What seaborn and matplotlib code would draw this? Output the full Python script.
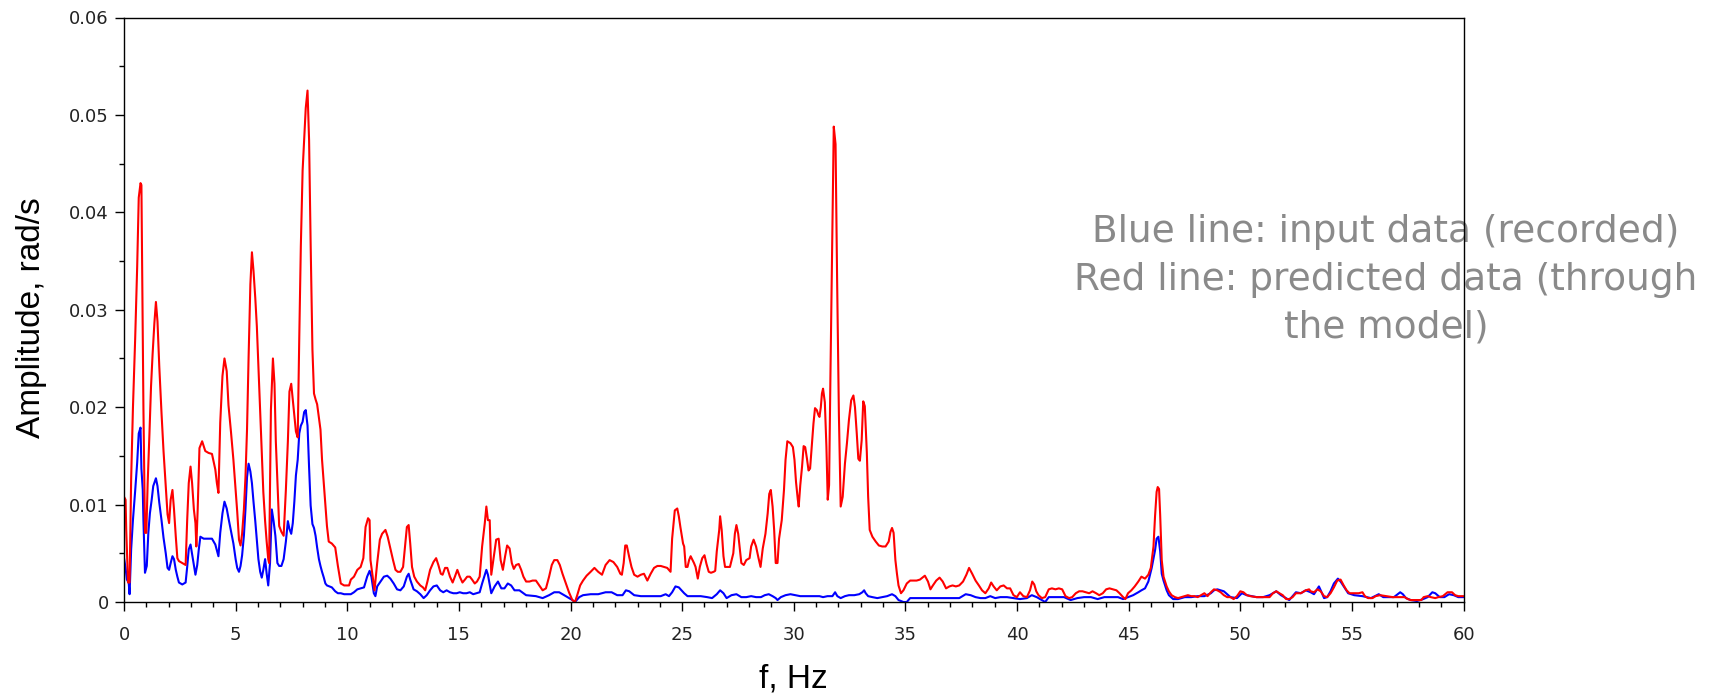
import matplotlib
matplotlib.use("Agg")
import matplotlib.pyplot as plt
import pandas as pd
import seaborn as sns
from matplotlib.ticker import MultipleLocator

# Spectrum of the predicted signal (red), frequency in Hz and amplitude in rad/s
red_f = [0.00, 0.07, 0.10, 0.18, 0.25, 0.32, 0.40, 0.50, 0.59, 0.66, 0.74, 0.78, 0.82, 0.87, 0.94,
         1.00, 1.06, 1.14, 1.21, 1.28, 1.36, 1.43, 1.50, 1.58, 1.68, 1.77, 1.87, 1.95, 2.02, 2.09,
         2.17, 2.24, 2.32, 2.39, 2.46, 2.61, 2.76, 2.83, 2.90, 2.98, 3.05, 3.13, 3.20, 3.24, 3.30,
         3.38, 3.50, 3.64, 3.79, 3.94, 4.09, 4.16, 4.23, 4.31, 4.41, 4.50, 4.60, 4.68, 4.79, 4.90,
         5.00, 5.07, 5.15, 5.22, 5.29, 5.37, 5.44, 5.51, 5.58, 5.66, 5.73, 5.80, 5.88, 5.95, 6.02,
         6.10, 6.17, 6.24, 6.32, 6.39, 6.46, 6.50, 6.58, 6.67, 6.74, 6.80, 6.87, 6.95, 7.05, 7.15,
         7.25, 7.34, 7.41, 7.49, 7.56, 7.63, 7.70, 7.78, 7.85, 7.92, 8.00, 8.07, 8.14, 8.22, 8.29,
         8.36, 8.44, 8.51, 8.58, 8.65, 8.80, 8.87, 8.95, 9.02, 9.09, 9.17, 9.31, 9.46, 9.58, 9.71,
         9.86, 10.08, 10.16, 10.30, 10.45, 10.60, 10.72, 10.82, 10.93, 11.00, 11.04, 11.22, 11.34, 11.46, 11.56,
         11.71, 11.81, 11.93, 12.05, 12.16, 12.26, 12.38, 12.50, 12.60, 12.67, 12.75, 12.82, 12.90, 13.00, 13.12,
         13.27, 13.39, 13.49, 13.59, 13.71, 13.86, 13.98, 14.08, 14.19, 14.27, 14.38, 14.48, 14.60, 14.72, 14.82,
         14.93, 15.04, 15.16, 15.27, 15.37, 15.49, 15.59, 15.71, 15.81, 15.93, 16.04, 16.16, 16.23, 16.30, 16.38,
         16.45, 16.67, 16.78, 16.87, 16.97, 17.07, 17.16, 17.27, 17.37, 17.46, 17.56, 17.68, 17.79, 17.89, 18.01,
         18.16, 18.30, 18.45, 18.60, 18.75, 18.90, 19.04, 19.16, 19.27, 19.41, 19.52, 19.64, 19.79, 19.93, 20.08,
         20.20, 20.30, 20.43, 20.56, 20.72, 20.90, 21.07, 21.24, 21.41, 21.57, 21.75, 21.92, 22.09, 22.23, 22.30,
         22.38, 22.45, 22.52, 22.63, 22.73, 22.85, 23.00, 23.15, 23.29, 23.44, 23.59, 23.74, 23.89, 24.04, 24.18,
         24.33, 24.48, 24.55, 24.67, 24.78, 24.85, 24.92, 25.04, 25.09, 25.16, 25.24, 25.31, 25.38, 25.53, 25.60,
         25.70, 25.79, 25.90, 26.00, 26.09, 26.19, 26.29, 26.41, 26.48, 26.55, 26.66, 26.70, 26.77, 26.85, 26.92,
         26.99, 27.14, 27.29, 27.36, 27.43, 27.51, 27.58, 27.65, 27.76, 27.87, 28.02, 28.09, 28.20, 28.31, 28.42,
         28.51, 28.61, 28.73, 28.83, 28.90, 28.97, 29.05, 29.12, 29.19, 29.27, 29.34, 29.46, 29.56, 29.63, 29.71,
         29.85, 29.96, 30.03, 30.10, 30.18, 30.22, 30.29, 30.37, 30.44, 30.51, 30.59, 30.66, 30.73, 30.81, 30.88,
         30.95, 31.03, 31.10, 31.15, 31.21, 31.26, 31.31, 31.39, 31.46, 31.52, 31.58, 31.64, 31.72, 31.79, 31.87,
         31.94, 32.02, 32.10, 32.19, 32.29, 32.38, 32.47, 32.57, 32.67, 32.74, 32.82, 32.89, 32.96, 33.04, 33.11,
         33.18, 33.27, 33.33, 33.40, 33.52, 33.67, 33.81, 33.96, 34.11, 34.25, 34.33, 34.40, 34.47, 34.55, 34.62,
         34.69, 34.80, 34.91, 35.06, 35.21, 35.35, 35.50, 35.65, 35.87, 36.01, 36.12, 36.23, 36.38, 36.53, 36.67,
         36.82, 36.97, 37.11, 37.26, 37.41, 37.58, 37.73, 37.85, 37.99, 38.14, 38.29, 38.43, 38.58, 38.73, 38.84,
         38.95, 39.09, 39.25, 39.40, 39.55, 39.69, 39.84, 39.99, 40.13, 40.28, 40.44, 40.58, 40.68, 40.77, 40.86,
         40.96, 41.11, 41.26, 41.42, 41.56, 41.72, 41.87, 42.02, 42.17, 42.33, 42.47, 42.63, 42.78, 42.93, 43.08,
         43.23, 43.38, 43.54, 43.68, 43.84, 43.99, 44.14, 44.29, 44.45, 44.59, 44.75, 44.85, 44.97, 45.12, 45.27,
         45.43, 45.57, 45.73, 45.88, 45.99, 46.11, 46.18, 46.25, 46.30, 46.36, 46.41, 46.48, 46.56, 46.63, 46.70,
         46.80, 46.92, 47.07, 47.21, 47.36, 47.51, 47.65, 47.80, 47.95, 48.09, 48.24, 48.39, 48.53, 48.68, 48.82,
         48.97, 49.12, 49.26, 49.41, 49.56, 49.70, 49.85, 50.00, 50.14, 50.29, 50.44, 50.73, 51.02, 51.31, 51.46,
         51.61, 51.75, 51.90, 52.05, 52.19, 52.34, 52.49, 52.71, 52.93, 53.08, 53.15, 53.30, 53.45, 53.60, 53.75,
         53.89, 54.04, 54.19, 54.34, 54.49, 54.63, 54.76, 54.89, 55.10, 55.30, 55.47, 55.58, 55.72, 55.92, 56.06,
         56.26, 56.54, 56.82, 57.09, 57.36, 57.50, 57.63, 57.91, 58.11, 58.21, 58.39, 58.53, 58.73, 58.87, 59.07,
         59.28, 59.48, 59.62, 59.76, 60.00]
red_a = [0.0108, 0.0105, 0.0074, 0.0020, 0.0020, 0.0126, 0.0199, 0.0270, 0.0344, 0.0415, 0.0430, 0.0428, 0.0326, 0.0199, 0.0071,
         0.0071, 0.0122, 0.0173, 0.0221, 0.0254, 0.0286, 0.0308, 0.0288, 0.0242, 0.0194, 0.0155, 0.0119, 0.0090, 0.0081, 0.0105,
         0.0115, 0.0095, 0.0067, 0.0045, 0.0042, 0.0040, 0.0038, 0.0084, 0.0122, 0.0139, 0.0122, 0.0095, 0.0081, 0.0057, 0.0095,
         0.0158, 0.0165, 0.0155, 0.0153, 0.0152, 0.0136, 0.0122, 0.0112, 0.0184, 0.0232, 0.0250, 0.0237, 0.0202, 0.0175, 0.0146,
         0.0115, 0.0093, 0.0064, 0.0058, 0.0070, 0.0095, 0.0128, 0.0177, 0.0251, 0.0326, 0.0359, 0.0340, 0.0312, 0.0283, 0.0242,
         0.0197, 0.0152, 0.0113, 0.0083, 0.0062, 0.0044, 0.0040, 0.0197, 0.0250, 0.0224, 0.0165, 0.0124, 0.0078, 0.0072, 0.0068,
         0.0115, 0.0165, 0.0216, 0.0224, 0.0208, 0.0191, 0.0175, 0.0169, 0.0271, 0.0365, 0.0443, 0.0476, 0.0507, 0.0525, 0.0474,
         0.0367, 0.0259, 0.0214, 0.0208, 0.0203, 0.0177, 0.0146, 0.0121, 0.0099, 0.0078, 0.0062, 0.0060, 0.0056, 0.0037, 0.0019,
         0.0017, 0.0017, 0.0023, 0.0026, 0.0033, 0.0036, 0.0045, 0.0077, 0.0086, 0.0084, 0.0043, 0.0012, 0.0040, 0.0064, 0.0070,
         0.0074, 0.0067, 0.0055, 0.0043, 0.0033, 0.0031, 0.0031, 0.0036, 0.0060, 0.0077, 0.0079, 0.0060, 0.0036, 0.0026, 0.0021,
         0.0017, 0.0015, 0.0012, 0.0021, 0.0033, 0.0041, 0.0045, 0.0038, 0.0029, 0.0028, 0.0035, 0.0035, 0.0026, 0.0020, 0.0026,
         0.0033, 0.0026, 0.0020, 0.0023, 0.0026, 0.0026, 0.0023, 0.0019, 0.0021, 0.0026, 0.0057, 0.0081, 0.0098, 0.0084, 0.0084,
         0.0028, 0.0064, 0.0065, 0.0043, 0.0033, 0.0047, 0.0058, 0.0055, 0.0040, 0.0034, 0.0038, 0.0039, 0.0033, 0.0026, 0.0021,
         0.0021, 0.0022, 0.0022, 0.0017, 0.0012, 0.0014, 0.0026, 0.0038, 0.0043, 0.0043, 0.0038, 0.0029, 0.0019, 0.0010, 0.0002,
         0.0000, 0.0007, 0.0017, 0.0022, 0.0027, 0.0031, 0.0035, 0.0031, 0.0028, 0.0038, 0.0043, 0.0041, 0.0036, 0.0029, 0.0028,
         0.0040, 0.0058, 0.0058, 0.0046, 0.0036, 0.0028, 0.0026, 0.0028, 0.0029, 0.0022, 0.0029, 0.0035, 0.0037, 0.0037, 0.0036,
         0.0035, 0.0031, 0.0065, 0.0094, 0.0096, 0.0088, 0.0077, 0.0060, 0.0057, 0.0036, 0.0036, 0.0043, 0.0047, 0.0040, 0.0036,
         0.0024, 0.0036, 0.0045, 0.0048, 0.0039, 0.0031, 0.0030, 0.0031, 0.0032, 0.0052, 0.0074, 0.0088, 0.0074, 0.0047, 0.0036,
         0.0036, 0.0036, 0.0050, 0.0070, 0.0079, 0.0070, 0.0055, 0.0040, 0.0038, 0.0043, 0.0045, 0.0057, 0.0064, 0.0057, 0.0045,
         0.0036, 0.0055, 0.0070, 0.0091, 0.0111, 0.0115, 0.0098, 0.0074, 0.0040, 0.0040, 0.0065, 0.0084, 0.0115, 0.0146, 0.0165,
         0.0163, 0.0159, 0.0146, 0.0123, 0.0105, 0.0098, 0.0120, 0.0139, 0.0160, 0.0159, 0.0147, 0.0135, 0.0137, 0.0161, 0.0183,
         0.0199, 0.0197, 0.0192, 0.0190, 0.0200, 0.0214, 0.0219, 0.0205, 0.0160, 0.0105, 0.0120, 0.0231, 0.0368, 0.0488, 0.0470,
         0.0331, 0.0192, 0.0098, 0.0108, 0.0142, 0.0163, 0.0187, 0.0207, 0.0212, 0.0200, 0.0173, 0.0147, 0.0145, 0.0166, 0.0206,
         0.0201, 0.0154, 0.0108, 0.0074, 0.0067, 0.0062, 0.0058, 0.0057, 0.0057, 0.0062, 0.0072, 0.0076, 0.0071, 0.0043, 0.0029,
         0.0017, 0.0009, 0.0012, 0.0019, 0.0022, 0.0022, 0.0022, 0.0023, 0.0027, 0.0021, 0.0013, 0.0017, 0.0022, 0.0025, 0.0021,
         0.0014, 0.0016, 0.0017, 0.0016, 0.0017, 0.0021, 0.0028, 0.0035, 0.0029, 0.0022, 0.0017, 0.0012, 0.0009, 0.0014, 0.0020,
         0.0016, 0.0012, 0.0016, 0.0017, 0.0014, 0.0014, 0.0007, 0.0005, 0.0010, 0.0006, 0.0005, 0.0012, 0.0021, 0.0018, 0.0011,
         0.0007, 0.0004, 0.0005, 0.0013, 0.0014, 0.0013, 0.0014, 0.0013, 0.0006, 0.0004, 0.0005, 0.0009, 0.0011, 0.0011, 0.0010,
         0.0009, 0.0011, 0.0009, 0.0007, 0.0009, 0.0013, 0.0014, 0.0013, 0.0012, 0.0009, 0.0005, 0.0003, 0.0009, 0.0012, 0.0016,
         0.0021, 0.0026, 0.0024, 0.0028, 0.0035, 0.0057, 0.0088, 0.0113, 0.0118, 0.0116, 0.0089, 0.0043, 0.0026, 0.0021, 0.0016,
         0.0011, 0.0007, 0.0005, 0.0004, 0.0005, 0.0006, 0.0007, 0.0006, 0.0006, 0.0005, 0.0007, 0.0009, 0.0006, 0.0010, 0.0013,
         0.0012, 0.0010, 0.0007, 0.0005, 0.0005, 0.0003, 0.0006, 0.0011, 0.0010, 0.0007, 0.0006, 0.0005, 0.0005, 0.0005, 0.0009,
         0.0011, 0.0009, 0.0007, 0.0003, 0.0003, 0.0005, 0.0009, 0.0009, 0.0012, 0.0013, 0.0011, 0.0010, 0.0013, 0.0011, 0.0006,
         0.0005, 0.0009, 0.0015, 0.0022, 0.0023, 0.0017, 0.0012, 0.0009, 0.0009, 0.0009, 0.0010, 0.0006, 0.0004, 0.0004, 0.0006,
         0.0007, 0.0006, 0.0005, 0.0005, 0.0005, 0.0003, 0.0002, 0.0002, 0.0002, 0.0005, 0.0006, 0.0005, 0.0004, 0.0005, 0.0006,
         0.0010, 0.0010, 0.0007, 0.0006, 0.0006]

# Spectrum of the recorded input signal (blue)
blue_f = [0.00, 0.07, 0.13, 0.21, 0.25, 0.32, 0.40, 0.50, 0.59, 0.66, 0.74, 0.78, 0.84, 0.87, 0.94,
          1.02, 1.09, 1.16, 1.24, 1.31, 1.43, 1.50, 1.58, 1.68, 1.77, 1.87, 1.95, 2.02, 2.09, 2.17,
          2.24, 2.32, 2.39, 2.46, 2.61, 2.76, 2.83, 2.90, 2.98, 3.05, 3.13, 3.20, 3.28, 3.35, 3.42,
          3.57, 3.72, 3.94, 4.09, 4.23, 4.31, 4.41, 4.50, 4.60, 4.68, 4.79, 4.90, 5.00, 5.07, 5.15,
          5.22, 5.29, 5.37, 5.44, 5.51, 5.58, 5.66, 5.73, 5.80, 5.88, 5.95, 6.02, 6.10, 6.17, 6.24,
          6.32, 6.39, 6.46, 6.54, 6.62, 6.70, 6.78, 6.87, 6.95, 7.05, 7.15, 7.25, 7.34, 7.41, 7.49,
          7.56, 7.63, 7.70, 7.78, 7.85, 7.92, 8.00, 8.07, 8.14, 8.22, 8.29, 8.36, 8.44, 8.51, 8.58,
          8.65, 8.73, 8.80, 8.87, 8.95, 9.02, 9.09, 9.31, 9.46, 9.58, 9.71, 9.86, 10.16, 10.30, 10.45,
          10.60, 10.75, 10.89, 11.00, 11.08, 11.19, 11.26, 11.34, 11.49, 11.64, 11.79, 11.93, 12.08, 12.23, 12.38,
          12.53, 12.67, 12.75, 12.82, 12.97, 13.12, 13.27, 13.42, 13.56, 13.71, 13.86, 14.01, 14.16, 14.30, 14.45,
          14.60, 14.75, 14.90, 15.04, 15.19, 15.34, 15.49, 15.64, 15.78, 15.93, 16.04, 16.16, 16.23, 16.30, 16.45,
          16.60, 16.75, 16.90, 17.04, 17.19, 17.34, 17.49, 17.71, 18.01, 18.45, 18.75, 19.04, 19.27, 19.49, 19.79,
          20.08, 20.20, 20.39, 20.56, 20.90, 21.24, 21.57, 21.84, 22.09, 22.33, 22.48, 22.63, 22.85, 23.15, 23.59,
          24.04, 24.26, 24.41, 24.55, 24.70, 24.85, 25.09, 25.24, 25.53, 25.83, 26.12, 26.34, 26.55, 26.70, 26.85,
          26.99, 27.21, 27.43, 27.65, 27.87, 28.09, 28.31, 28.53, 28.70, 28.88, 29.05, 29.19, 29.27, 29.42, 29.63,
          29.85, 30.07, 30.29, 30.51, 30.73, 30.95, 31.15, 31.31, 31.51, 31.73, 31.85, 31.95, 32.10, 32.29, 32.47,
          32.71, 32.93, 33.07, 33.15, 33.22, 33.33, 33.52, 33.74, 33.96, 34.18, 34.40, 34.55, 34.69, 34.91, 35.06,
          35.21, 35.65, 36.09, 36.53, 36.97, 37.41, 37.70, 37.92, 38.14, 38.36, 38.58, 38.80, 39.02, 39.25, 39.55,
          39.84, 40.13, 40.44, 40.66, 40.88, 41.11, 41.26, 41.42, 41.72, 42.10, 42.40, 42.70, 43.00, 43.31, 43.61,
          43.91, 44.22, 44.52, 44.75, 44.97, 45.20, 45.43, 45.57, 45.73, 45.88, 46.03, 46.18, 46.25, 46.33, 46.41,
          46.48, 46.56, 46.70, 46.80, 46.99, 47.21, 47.51, 47.80, 48.09, 48.39, 48.68, 48.82, 48.97, 49.26, 49.56,
          49.85, 50.07, 50.29, 50.73, 51.02, 51.31, 51.61, 51.82, 51.97, 52.19, 52.34, 52.49, 52.71, 52.93, 53.15,
          53.30, 53.52, 53.60, 53.75, 53.89, 54.04, 54.19, 54.37, 54.49, 54.63, 54.83, 55.10, 55.47, 55.85, 56.20,
          56.40, 56.61, 56.88, 57.16, 57.28, 57.42, 57.63, 57.91, 58.19, 58.39, 58.60, 58.73, 58.93, 59.14, 59.35,
          59.56, 59.76, 60.00]
blue_a = [0.0045, 0.0035, 0.0023, 0.0020, 0.0008, 0.0054, 0.0084, 0.0114, 0.0143, 0.0173, 0.0179, 0.0137, 0.0115, 0.0084, 0.0030,
          0.0037, 0.0071, 0.0091, 0.0105, 0.0119, 0.0127, 0.0119, 0.0102, 0.0084, 0.0066, 0.0050, 0.0035, 0.0033, 0.0040, 0.0047,
          0.0044, 0.0033, 0.0026, 0.0020, 0.0018, 0.0020, 0.0036, 0.0054, 0.0059, 0.0049, 0.0038, 0.0028, 0.0038, 0.0054, 0.0067,
          0.0065, 0.0065, 0.0065, 0.0059, 0.0047, 0.0071, 0.0091, 0.0103, 0.0096, 0.0086, 0.0073, 0.0060, 0.0044, 0.0035, 0.0031,
          0.0037, 0.0048, 0.0068, 0.0095, 0.0128, 0.0142, 0.0134, 0.0122, 0.0103, 0.0083, 0.0064, 0.0044, 0.0031, 0.0025, 0.0033,
          0.0044, 0.0029, 0.0017, 0.0040, 0.0095, 0.0083, 0.0068, 0.0040, 0.0037, 0.0037, 0.0044, 0.0062, 0.0083, 0.0075, 0.0070,
          0.0081, 0.0103, 0.0130, 0.0146, 0.0173, 0.0181, 0.0185, 0.0195, 0.0197, 0.0181, 0.0138, 0.0099, 0.0080, 0.0076, 0.0068,
          0.0056, 0.0044, 0.0037, 0.0031, 0.0025, 0.0019, 0.0017, 0.0015, 0.0011, 0.0009, 0.0009, 0.0008, 0.0008, 0.0010, 0.0013,
          0.0014, 0.0015, 0.0026, 0.0032, 0.0026, 0.0009, 0.0006, 0.0016, 0.0021, 0.0026, 0.0027, 0.0024, 0.0019, 0.0013, 0.0012,
          0.0016, 0.0026, 0.0029, 0.0023, 0.0013, 0.0011, 0.0008, 0.0004, 0.0007, 0.0012, 0.0016, 0.0017, 0.0012, 0.0010, 0.0012,
          0.0010, 0.0009, 0.0009, 0.0010, 0.0009, 0.0009, 0.0010, 0.0008, 0.0009, 0.0010, 0.0019, 0.0028, 0.0033, 0.0028, 0.0009,
          0.0016, 0.0021, 0.0014, 0.0014, 0.0019, 0.0017, 0.0012, 0.0012, 0.0007, 0.0006, 0.0004, 0.0007, 0.0010, 0.0010, 0.0006,
          0.0002, 0.0000, 0.0005, 0.0007, 0.0008, 0.0008, 0.0010, 0.0010, 0.0007, 0.0007, 0.0012, 0.0011, 0.0007, 0.0006, 0.0006,
          0.0006, 0.0008, 0.0006, 0.0010, 0.0016, 0.0015, 0.0009, 0.0006, 0.0006, 0.0006, 0.0005, 0.0004, 0.0008, 0.0012, 0.0009,
          0.0004, 0.0007, 0.0008, 0.0005, 0.0005, 0.0006, 0.0005, 0.0005, 0.0007, 0.0008, 0.0006, 0.0004, 0.0002, 0.0005, 0.0007,
          0.0008, 0.0007, 0.0006, 0.0006, 0.0006, 0.0006, 0.0006, 0.0005, 0.0006, 0.0006, 0.0010, 0.0006, 0.0004, 0.0006, 0.0007,
          0.0007, 0.0008, 0.0010, 0.0012, 0.0009, 0.0006, 0.0005, 0.0004, 0.0005, 0.0006, 0.0008, 0.0006, 0.0002, 0.0000, 0.0000,
          0.0004, 0.0004, 0.0004, 0.0004, 0.0004, 0.0004, 0.0008, 0.0007, 0.0005, 0.0004, 0.0004, 0.0006, 0.0004, 0.0005, 0.0005,
          0.0004, 0.0003, 0.0004, 0.0007, 0.0005, 0.0002, 0.0000, 0.0005, 0.0005, 0.0005, 0.0002, 0.0004, 0.0005, 0.0005, 0.0003,
          0.0005, 0.0005, 0.0005, 0.0003, 0.0005, 0.0007, 0.0010, 0.0012, 0.0014, 0.0021, 0.0035, 0.0053, 0.0065, 0.0067, 0.0052,
          0.0029, 0.0022, 0.0012, 0.0007, 0.0003, 0.0003, 0.0005, 0.0005, 0.0006, 0.0006, 0.0009, 0.0012, 0.0013, 0.0011, 0.0005,
          0.0004, 0.0009, 0.0007, 0.0005, 0.0005, 0.0007, 0.0011, 0.0007, 0.0005, 0.0002, 0.0006, 0.0010, 0.0009, 0.0012, 0.0010,
          0.0008, 0.0016, 0.0012, 0.0004, 0.0005, 0.0011, 0.0019, 0.0024, 0.0021, 0.0016, 0.0009, 0.0007, 0.0006, 0.0004, 0.0008,
          0.0005, 0.0005, 0.0005, 0.0010, 0.0008, 0.0004, 0.0002, 0.0001, 0.0003, 0.0005, 0.0010, 0.0009, 0.0005, 0.0005, 0.0008,
          0.0007, 0.0005, 0.0005]

x_ticks = [0, 5, 10, 15, 20, 25, 30, 35, 40, 45, 50, 55, 60]
y_ticks = [0.0, 0.01, 0.02, 0.03, 0.04, 0.05, 0.06]
y_tick_labels = ["0", "0.01", "0.02", "0.03", "0.04", "0.05", "0.06"]
note_text = "Blue line: input data (recorded)\nRed line: predicted data (through\nthe model)"

sns.set_theme(style="white")
plt.rcParams["font.family"] = ["DejaVu Sans"]

W, H = 1719, 698
fig = plt.figure(figsize=(W / 100, H / 100), dpi=100)
ax = fig.add_axes([124 / W, 1 - 602 / H, (1463.6 - 124) / W, (602 - 17.5) / H])

blue_df = pd.DataFrame({"f": blue_f, "amp": blue_a})
red_df = pd.DataFrame({"f": red_f, "amp": red_a})
sns.lineplot(data=blue_df, x="f", y="amp", ax=ax, color="#0000ff", lw=1.5,
             estimator=None, sort=False)
sns.lineplot(data=red_df, x="f", y="amp", ax=ax, color="#ff0000", lw=1.5,
             estimator=None, sort=False)

ax.set_xlim(0, 60)
ax.set_ylim(0, 0.06)
ax.set_xticks(x_ticks)
ax.set_xticklabels([str(v) for v in x_ticks])
ax.set_yticks(y_ticks)
ax.set_yticklabels(y_tick_labels)
ax.xaxis.set_minor_locator(MultipleLocator(1))
ax.yaxis.set_minor_locator(MultipleLocator(0.005))

for side in ["left", "right", "top", "bottom"]:
    ax.spines[side].set_visible(True)
    ax.spines[side].set_color("black")
    ax.spines[side].set_linewidth(1.0)

ax.tick_params(axis="both", which="both", direction="out", color="black", width=1.0,
               left=True, bottom=True, right=False, top=False)
ax.tick_params(axis="both", which="major", length=6.5, labelsize=13, labelcolor="#222222")
ax.tick_params(axis="both", which="minor", length=3.6)
ax.tick_params(axis="x", which="major", pad=10.5)
ax.tick_params(axis="y", which="major", pad=4.5)

ax.set_xlabel("f, Hz", fontsize=24, family="Liberation Sans", color="black")
ax.set_ylabel("Amplitude, rad/s", fontsize=24, family="Liberation Sans", color="black")
ax.xaxis.label.set_va("center")
ax.yaxis.label.set_va("center")
ax.xaxis.set_label_coords(0.5, -0.132)
ax.yaxis.set_label_coords(-0.069, 0.486)

ax.text(1386 / W, 1 - 280 / H, note_text, transform=fig.transFigure,
        ha="center", va="center", multialignment="center", fontsize=27,
        linespacing=1.42, color="#8a8a8a", family="DejaVu Sans",
        clip_on=False, zorder=1)

fig.savefig("out.png", dpi=100, facecolor="white")
